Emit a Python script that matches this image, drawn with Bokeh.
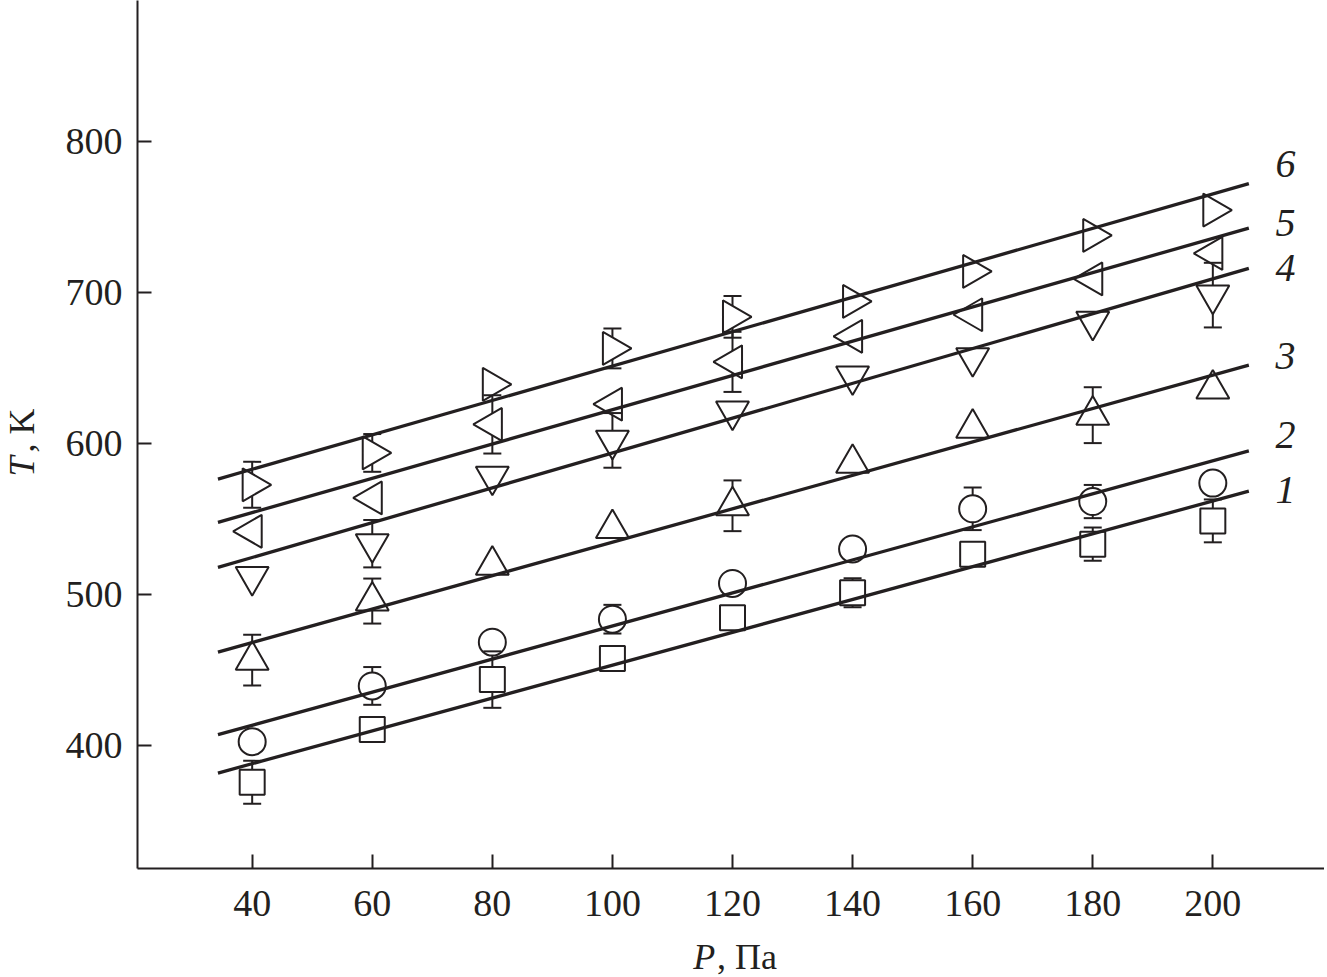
import math
from bokeh.plotting import figure
from bokeh.layouts import row, column
from bokeh.models import Range1d, FixedTicker
from bokeh.embed import file_html
from bokeh.resources import INLINE
from bokeh.core.properties import value

# ---- data ----
P = [40, 60, 80, 100, 120, 140, 160, 180, 200]

T1 = [375.6, 410.5, 443.6, 457.6, 484.6, 501.1, 526.6, 533.3, 548.7]
T2 = [402.5, 439.4, 468.4, 483.6, 507.3, 530.1, 556.7, 561.5, 573.7]
T3 = [456.5, 495.6, 519.4, 543.7, 558.7, 586.8, 610.1, 618.7, 636.0]
T4 = [511.8, 533.6, 578.3, 602.0, 621.4, 644.6, 656.7, 680.8, 698.2]
T5 = [541.8, 563.9, 612.6, 626.0, 654.0, 670.9, 685.2, 708.9, 725.8]
T6 = [572.6, 593.7, 639.1, 662.9, 683.8, 694.0, 713.9, 737.7, 754.5]

# error half-widths (0 = no error bar shown)
E1 = [14.2, 0, 18.7, 0, 0, 9.6, 0, 11.0, 14.2]
E2 = [0, 12.5, 0, 9.5, 0, 0, 14.1, 11.0, 0]
E3 = [16.8, 14.9, 0, 0, 16.8, 0, 0, 18.5, 0]
E4 = [0, 15.7, 0, 18.1, 0, 0, 0, 0, 21.4]
E5 = [0, 0, 19.3, 0, 19.9, 0, 0, 0, 0]
E6 = [15.2, 12.5, 0, 13.2, 13.8, 0, 0, 0, 0]

# fitted straight lines (end points)
fit_P = [34.3, 206.0]
fit1 = [381.7, 568.4]
fit2 = [407.1, 595.1]
fit3 = [461.8, 651.9]
fit4 = [517.9, 715.9]
fit5 = [547.7, 742.6]
fit6 = [576.4, 772.0]

curve_labels = ["1", "2", "3", "4", "5", "6"]
label_P = [212.1] * 6
label_T = [569.1, 605.5, 657.8, 716.4, 745.9, 784.8]

x_ticks = [40, 60, 80, 100, 120, 140, 160, 180, 200]
y_ticks = [400, 500, 600, 700, 800]

x_title = ["P", ", Па"]
y_title = ["T", ", K"]

# ---- styling / layout constants ----
INK = "#231f20"
FONT = "Liberation Serif"
YLAB_W = 50
MAIN_W = 1274
FRAME_H = 868
MAIN_H = FRAME_H + 68
XLAB_H = 39
TOTAL_H = MAIN_H + XLAB_H

p = figure(width=MAIN_W, height=MAIN_H,
           x_range=Range1d(20.90, 218.60), y_range=Range1d(318.5, 893.3),
           output_backend="svg", toolbar_location=None,
           min_border_left=87, min_border_bottom=68,
           min_border_top=0, min_border_right=0,
           background_fill_color="white", border_fill_color="white")
p.outline_line_color = None
p.grid.visible = False

for ax, ticks in ((p.xaxis, x_ticks), (p.yaxis, y_ticks)):
    ax.ticker = FixedTicker(ticks=ticks)
    ax.major_tick_in = 14
    ax.major_tick_out = 0
    ax.minor_tick_line_color = None
    ax.axis_line_width = 2
    ax.axis_line_color = INK
    ax.major_tick_line_width = 2
    ax.major_tick_line_color = INK
    ax.major_label_text_font = FONT
    ax.major_label_text_font_size = "38px"
    ax.major_label_text_color = INK
p.xaxis.major_label_standoff = 22
p.yaxis.major_label_standoff = 15

series = [
    (T1, E1, fit1, dict(marker="square", size=25, angle=0.0)),
    (T2, E2, fit2, dict(marker="circle", size=27, angle=0.0)),
    (T3, E3, fit3, dict(marker="triangle", size=33, angle=0.0)),
    (T4, E4, fit4, dict(marker="inverted_triangle", size=33, angle=0.0)),
    (T5, E5, fit5, dict(marker="triangle", size=33, angle=math.pi / 2)),
    (T6, E6, fit6, dict(marker="triangle", size=33, angle=-math.pi / 2)),
]

# error bar stems
for T, E, fit, mk in series:
    xs = [x for x, e in zip(P, E) if e > 0]
    lo = [t - e for t, e in zip(T, E) if e > 0]
    hi = [t + e for t, e in zip(T, E) if e > 0]
    if xs:
        p.segment(x0=xs, y0=lo, x1=xs, y1=hi, line_color=INK, line_width=2)

# markers (white filled)
for T, E, fit, mk in series:
    p.scatter(x=P, y=T, marker=mk["marker"], size=mk["size"], angle=mk["angle"],
              fill_color="white", line_color=INK, line_width=2)

# error bar caps
for T, E, fit, mk in series:
    xs = [x for x, e in zip(P, E) if e > 0]
    lo = [t - e for t, e in zip(T, E) if e > 0]
    hi = [t + e for t, e in zip(T, E) if e > 0]
    if xs:
        p.scatter(x=xs + xs, y=lo + hi, marker="dash", size=18,
                  line_color=INK, line_width=2)

# fit lines
for T, E, fit, mk in series:
    p.line(x=fit_P, y=fit, line_color=INK, line_width=3.3)

# curve numbers
p.text(x=label_P, y=label_T, text=curve_labels, text_font=value(FONT),
       text_font_style="italic", text_font_size="40px", text_color=INK,
       text_align="center", text_baseline="middle")


def blank(w, h):
    f = figure(width=w, height=h, x_range=Range1d(0, w), y_range=Range1d(0, h),
               output_backend="svg", toolbar_location=None,
               x_axis_location=None, y_axis_location=None,
               min_border=0, background_fill_color="white",
               border_fill_color="white")
    f.outline_line_color = None
    f.grid.visible = False
    return f


# x-axis title (italic P + upright rest), pixel coordinates inside its strip
xl = blank(MAIN_W, XLAB_H)
xl.text(x=[620], y=[19], text=[x_title[0]], text_font=value(FONT),
        text_font_style="italic", text_font_size="36px", text_color=INK,
        text_align="right", text_baseline="middle")
xl.text(x=[622], y=[19], text=[x_title[1]], text_font=value(FONT),
        text_font_size="36px", text_color=INK,
        text_align="left", text_baseline="middle")

# y-axis title (rotated)
yl = blank(YLAB_W, TOTAL_H)
yl.text(x=[21], y=[TOTAL_H - 476], text=[y_title[0]], angle=math.pi / 2,
        text_font=value(FONT), text_font_style="italic", text_font_size="36px",
        text_color=INK, text_align="left", text_baseline="middle")
yl.text(x=[21], y=[TOTAL_H - 452], text=[y_title[1]], angle=math.pi / 2,
        text_font=value(FONT), text_font_size="36px",
        text_color=INK, text_align="left", text_baseline="middle")

layout = row(yl, column(p, xl, spacing=0), spacing=0)

open("out.html", "w").write(file_html(layout, INLINE))
